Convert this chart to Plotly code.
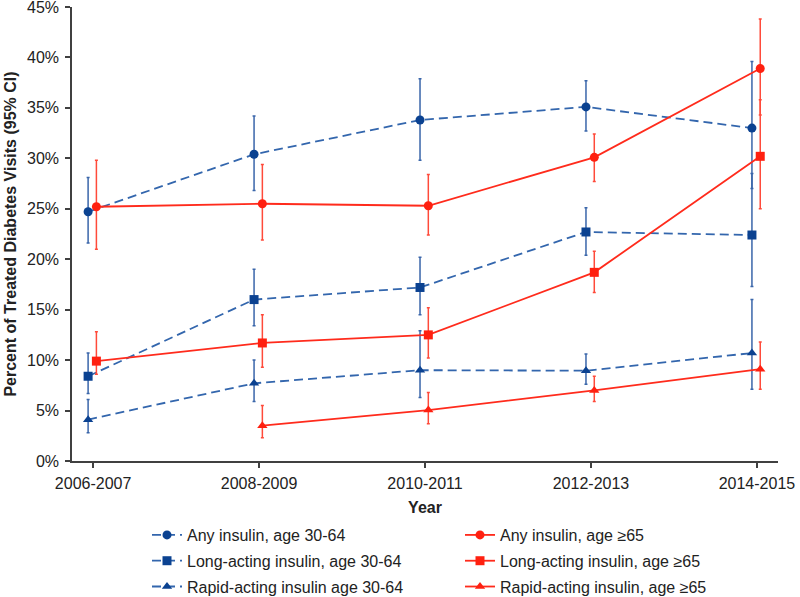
import plotly.graph_objects as go

periods = ["2006-2007", "2008-2009", "2010-2011", "2012-2013", "2014-2015"]

# Values (percent) and 95% CI bounds
any_3064 = [24.7, 30.4, 33.8, 35.1, 33.0]
any_3064_lo = [21.6, 26.8, 29.8, 32.7, 27.0]
any_3064_hi = [28.1, 34.2, 37.9, 37.7, 39.6]

any_65 = [25.2, 25.5, 25.3, 30.1, 38.9]
any_65_lo = [21.0, 21.9, 22.4, 27.7, 34.3]
any_65_hi = [29.8, 29.4, 28.4, 32.4, 43.8]

long_3064 = [8.4, 16.0, 17.2, 22.7, 22.4]
long_3064_lo = [6.7, 13.4, 14.5, 20.4, 17.3]
long_3064_hi = [10.7, 19.0, 20.2, 25.1, 28.5]

long_65 = [9.9, 11.7, 12.5, 18.7, 30.2]
long_65_lo = [8.6, 9.3, 10.2, 16.7, 25.0]
long_65_hi = [12.8, 14.5, 15.2, 20.8, 35.8]

rapid_3064 = [4.1, 7.7, 9.0, 8.95, 10.7]
rapid_3064_lo = [2.8, 5.9, 6.3, 7.6, 7.1]
rapid_3064_hi = [6.1, 10.0, 12.9, 10.6, 16.0]

rapid_65 = [None, 3.5, 5.05, 7.0, 9.1]
rapid_65_lo = [None, 2.3, 3.7, 5.9, 7.1]
rapid_65_hi = [None, 5.5, 6.8, 8.4, 11.8]

y_ticks = [0, 5, 10, 15, 20, 25, 30, 35, 40, 45]

BLUE_LINE = "#3366AD"
BLUE_MARK = "#0B4291"
BLUE_ERR = "#3A66AA"
RED_LINE = "#FF2B1C"
RED_MARK = "#FF2010"
RED_ERR = "#FF4A3A"

OFF_BLUE = -0.03
OFF_RED = 0.02

FONT = "Liberation Sans, Arial, sans-serif"

fig = go.Figure()


def add(name, vals, lo, hi, color_line, color_mark, color_err, dash, symbol, offset, legend, size):
    xs = [i + offset for i in range(len(periods))]
    plus = [None if v is None else h - v for v, h in zip(vals, hi)]
    minus = [None if v is None else v - l for v, l in zip(vals, lo)]
    fig.add_trace(go.Scatter(
        x=xs, y=vals, name=name, mode="lines+markers",
        line=dict(color=color_line, width=1.8, dash=dash),
        marker=dict(symbol=symbol, size=size, color=color_mark),
        error_y=dict(type="data", array=plus, arrayminus=minus, symmetric=False,
                     color=color_err, thickness=1.5, width=1.5),
        legend=legend, legendgroup=name, hoverinfo="skip",
    ))


DASH = "9px,5px"
add("Any insulin, age 30-64", any_3064, any_3064_lo, any_3064_hi, BLUE_LINE, BLUE_MARK, BLUE_ERR, DASH, "circle", OFF_BLUE, "legend", 9)
add("Long-acting insulin, age 30-64", long_3064, long_3064_lo, long_3064_hi, BLUE_LINE, BLUE_MARK, BLUE_ERR, DASH, "square", OFF_BLUE, "legend", 9)
add("Rapid-acting insulin age 30-64", rapid_3064, rapid_3064_lo, rapid_3064_hi, BLUE_LINE, BLUE_MARK, BLUE_ERR, DASH, "triangle-up", OFF_BLUE, "legend", 9)
add("Any insulin, age ≥65", any_65, any_65_lo, any_65_hi, RED_LINE, RED_MARK, RED_ERR, "solid", "circle", OFF_RED, "legend2", 9)
add("Long-acting insulin, age ≥65", long_65, long_65_lo, long_65_hi, RED_LINE, RED_MARK, RED_ERR, "solid", "square", OFF_RED, "legend2", 9)
add("Rapid-acting insulin, age ≥65", rapid_65, rapid_65_lo, rapid_65_hi, RED_LINE, RED_MARK, RED_ERR, "solid", "triangle-up", OFF_RED, "legend2", 9)

AXIS_COLOR = "#404040"
TICK_FONT = dict(family=FONT, size=16, color="#222222")

legend_common = dict(
    orientation="v", yanchor="top", xanchor="left", y=-0.1256,
    font=dict(family=FONT, size=16, color="#222222"),
    bgcolor="rgba(0,0,0,0)", borderwidth=0, tracegroupgap=2,
)

fig.update_layout(
    width=800, height=597,
    margin=dict(l=72, r=22, t=7, b=136, autoexpand=False),
    paper_bgcolor="white", plot_bgcolor="white",
    font=dict(family=FONT, size=16, color="#222222"),
    showlegend=True,
    legend=dict(x=(147 - 72) / 706, **legend_common),
    legend2=dict(x=(460 - 72) / 706, **legend_common),
    xaxis=dict(
        range=[-0.127, 4.127], tickmode="array",
        tickvals=list(range(len(periods))), ticktext=periods,
        showline=True, linecolor=AXIS_COLOR, linewidth=1.5,
        ticks="outside", ticklen=5, tickwidth=1.5, tickcolor=AXIS_COLOR,
        showgrid=False, zeroline=False, tickfont=TICK_FONT,
        ticklabelstandoff=2, ticklabeloverflow="allow",
        title=dict(text="<b>Year</b>", font=dict(family=FONT, size=16, color="#222222"), standoff=11),
    ),
    yaxis=dict(
        range=[0, 45], tickmode="array", tickvals=y_ticks,
        ticktext=[f"{v}%" for v in y_ticks],
        showline=True, linecolor=AXIS_COLOR, linewidth=1.5,
        ticks="outside", ticklen=5, tickwidth=1.5, tickcolor=AXIS_COLOR,
        showgrid=False, zeroline=False, tickfont=TICK_FONT,
        ticklabelstandoff=3, ticklabeloverflow="allow",
        title=dict(text="<b>Percent of Treated Diabetes Visits (95% CI)</b>",
                   font=dict(family=FONT, size=16, color="#222222"), standoff=6),
    ),
)

fig.write_html(
    "out.html",
    config={"displayModeBar": False},
    post_script="document.body.style.margin='0';document.body.style.padding='0';",
)
